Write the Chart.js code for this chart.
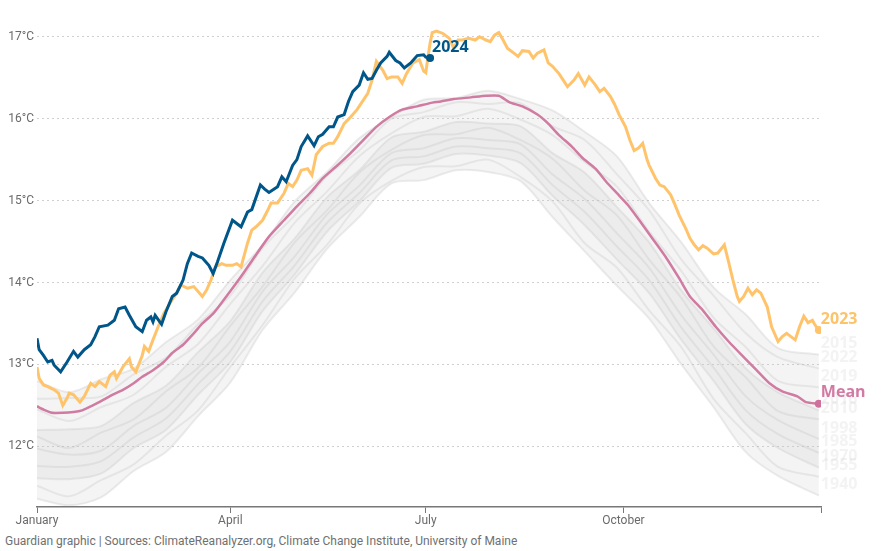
<!DOCTYPE html>
<html lang="en">
<head>
	<meta charset="UTF-8">
	<title>Daily global air temperature</title>
	<script src="https://cdn.jsdelivr.net/npm/chart.js@4.4.1/dist/chart.umd.min.js"></script>
	<style>
		html, body { margin: 0; padding: 0; background: #fff; }
		.wrap { position: relative; width: 884px; height: 551px; }
		#tempChart { position: absolute; left: 0; top: 0; }
		.source { position: absolute; left: 5px; top: 533px; font: 12px/16px Roboto, sans-serif; color: #707070; }
	</style>
</head>

<body>
	<div class="wrap">
		<canvas id="tempChart" width="884" height="528"></canvas>
		<div class="source">Guardian graphic | Sources: ClimateReanalyzer.org, Climate Change Institute, University of Maine</div>
	</div>

	<script>
		// day of year (0 = 1 January) and daily temperature in °C
		var days2024 = [0, 1, 3, 5, 7, 8, 11, 14, 17, 19, 22, 25, 27, 29, 33, 36, 38, 41, 43, 46, 49, 51, 53, 54, 55, 58, 60, 63, 65, 68,
			70, 72, 75, 77, 80, 82, 84, 87, 91, 93, 95, 98, 100, 104, 106, 108, 112, 114, 116, 119, 121, 123, 126, 129, 131, 133, 136, 138, 140, 143,
			145, 147, 150, 152, 154, 156, 158, 160, 163, 164, 167, 169, 171, 174, 177, 180, 181, 183];
		var temp2024 = [13.32, 13.18, 13.11, 13.03, 13.05, 12.99, 12.91, 13.03, 13.16, 13.09, 13.18, 13.24, 13.34, 13.46, 13.48, 13.54, 13.68, 13.70, 13.60, 13.46,
			13.40, 13.54, 13.58, 13.52, 13.60, 13.49, 13.64, 13.83, 13.87, 14.03, 14.23, 14.36, 14.32, 14.30, 14.21, 14.11, 14.25, 14.48, 14.76, 14.72,
			14.68, 14.86, 14.89, 15.19, 15.14, 15.10, 15.17, 15.29, 15.23, 15.43, 15.50, 15.66, 15.79, 15.67, 15.78, 15.81, 15.90, 15.90, 16.02, 16.05,
			16.21, 16.33, 16.41, 16.56, 16.48, 16.49, 16.59, 16.68, 16.76, 16.81, 16.71, 16.68, 16.62, 16.68, 16.77, 16.78, 16.75, 16.74];

		var days2023 = [0, 1, 3, 5, 8, 10, 12, 14, 15, 17, 20, 22, 25, 27, 29, 32, 34, 36, 37, 40, 43, 44, 46, 49, 50, 52, 54, 57, 59, 62,
			65, 67, 70, 73, 77, 79, 81, 83, 86, 88, 91, 93, 95, 98, 100, 102, 105, 107, 109, 112, 115, 117, 119, 121, 123, 126, 128, 130, 133, 136,
			138, 140, 143, 146, 149, 152, 154, 156, 158, 161, 163, 165, 168, 170, 172, 175, 178, 180, 181, 182, 183, 184, 186, 189, 192, 194, 196, 198, 201, 204,
			206, 209, 211, 213, 215, 217, 219, 222, 224, 226, 229, 231, 233, 236, 238, 240, 243, 245, 247, 250, 252, 255, 257, 260, 262, 264, 267, 269, 271, 274,
			276, 278, 280, 282, 284, 285, 288, 290, 292, 295, 297, 299, 302, 304, 306, 308, 310, 312, 315, 317, 320, 322, 324, 326, 327, 329, 331, 333, 335, 337,
			340, 342, 345, 347, 349, 351, 353, 355, 357, 359, 361, 362, 364];
		var temp2023 = [12.97, 12.83, 12.75, 12.73, 12.69, 12.65, 12.50, 12.59, 12.65, 12.63, 12.54, 12.61, 12.77, 12.73, 12.79, 12.73, 12.87, 12.91, 12.83, 12.97,
			13.07, 12.97, 12.91, 13.11, 13.22, 13.16, 13.30, 13.50, 13.62, 13.75, 13.87, 13.97, 13.93, 13.95, 13.83, 13.91, 14.03, 14.19, 14.23, 14.21,
			14.21, 14.23, 14.19, 14.48, 14.64, 14.68, 14.76, 14.86, 14.97, 14.97, 15.09, 15.21, 15.17, 15.25, 15.37, 15.39, 15.31, 15.56, 15.66, 15.70,
			15.70, 15.78, 15.94, 16.02, 16.11, 16.23, 16.31, 16.47, 16.70, 16.59, 16.49, 16.51, 16.51, 16.43, 16.55, 16.68, 16.72, 16.58, 16.56, 16.75,
			16.92, 17.05, 17.07, 17.04, 16.98, 16.86, 16.96, 16.96, 16.98, 16.96, 17.00, 16.96, 16.94, 17.02, 17.05, 16.96, 16.86, 16.80, 16.76, 16.83,
			16.82, 16.74, 16.80, 16.84, 16.68, 16.64, 16.55, 16.47, 16.39, 16.47, 16.55, 16.41, 16.51, 16.41, 16.33, 16.37, 16.27, 16.17, 16.05, 15.90,
			15.74, 15.61, 15.64, 15.70, 15.50, 15.43, 15.27, 15.19, 15.17, 15.07, 14.95, 14.82, 14.66, 14.54, 14.46, 14.40, 14.45, 14.42, 14.35, 14.36,
			14.46, 14.25, 14.03, 13.83, 13.77, 13.83, 13.93, 13.85, 13.91, 13.87, 13.70, 13.46, 13.28, 13.34, 13.38, 13.34, 13.30, 13.46, 13.59, 13.51,
			13.54, 13.49, 13.42];

		var daysMean = [0, 3, 7, 12, 17, 21, 26, 31, 35, 40, 45, 49, 54, 59, 63, 68, 73, 77, 82, 87, 91, 96, 102, 108, 115, 121, 127, 133, 139, 146,
			152, 158, 164, 170, 177, 183, 188, 194, 202, 209, 215, 220, 226, 233, 238, 243, 249, 254, 260, 265, 270, 275, 281, 287, 293, 299, 304, 310, 316, 322,
			329, 335, 341, 347, 354, 358, 364];
		var tempMean = [12.49, 12.45, 12.41, 12.41, 12.42, 12.44, 12.50, 12.57, 12.63, 12.69, 12.77, 12.85, 12.93, 13.03, 13.14, 13.24, 13.38, 13.50, 13.62, 13.79,
			13.93, 14.11, 14.34, 14.56, 14.76, 14.93, 15.09, 15.27, 15.41, 15.58, 15.74, 15.90, 16.02, 16.11, 16.15, 16.19, 16.21, 16.24, 16.26, 16.28,
			16.28, 16.20, 16.15, 16.05, 15.94, 15.80, 15.66, 15.52, 15.39, 15.23, 15.09, 14.95, 14.74, 14.52, 14.30, 14.05, 13.83, 13.66, 13.46, 13.28,
			13.09, 12.93, 12.77, 12.67, 12.61, 12.54, 12.52];

		// earlier years
		var greyDays = [0, 15, 30, 45, 60, 75, 90, 105, 120, 135, 150, 165, 180, 195, 210, 225, 240, 255, 270, 285, 300, 315, 330, 345, 364];
		var greyYears = ['2015', '2022', '2019', '2016', '2010', '1998', '1985', '1970', '1955', '1940'];
		var grey2015 = [12.80, 12.66, 12.82, 12.95, 13.27, 13.55, 14.03, 14.46, 14.99, 15.35, 15.76, 16.02, 16.23, 16.25, 16.34, 16.24, 16.10, 15.84, 15.54, 14.97, 14.49, 13.94, 13.61, 13.20, 13.12];
		var grey2022 = [12.58, 12.59, 12.61, 12.88, 13.08, 13.49, 13.84, 14.42, 14.82, 15.30, 15.61, 16.00, 16.08, 16.20, 16.18, 16.19, 15.91, 15.74, 15.32, 14.88, 14.28, 13.84, 13.38, 13.09, 12.95];
		var grey2019 = [12.45, 12.31, 12.48, 12.63, 12.97, 13.25, 13.74, 14.20, 14.73, 15.11, 15.54, 15.82, 16.02, 16.03, 16.12, 15.99, 15.80, 15.47, 15.17, 14.62, 14.14, 13.57, 13.21, 12.80, 12.72];
		var grey2016 = [12.20, 12.21, 12.25, 12.53, 12.74, 13.15, 13.53, 14.12, 14.54, 15.04, 15.37, 15.77, 15.84, 15.96, 15.94, 15.91, 15.58, 15.34, 14.92, 14.49, 13.90, 13.44, 12.95, 12.66, 12.44];
		var grey2010 = [12.12, 11.98, 12.17, 12.33, 12.67, 12.96, 13.47, 13.95, 14.49, 14.88, 15.34, 15.62, 15.80, 15.81, 15.89, 15.74, 15.51, 15.12, 14.82, 14.28, 13.81, 13.22, 12.84, 12.43, 12.33];
		var grey1998 = [11.97, 11.90, 11.95, 12.25, 12.47, 12.89, 13.28, 13.89, 14.32, 14.83, 15.18, 15.58, 15.64, 15.76, 15.74, 15.69, 15.32, 15.02, 14.60, 14.18, 13.60, 13.12, 12.61, 12.32, 12.09];
		var grey1985 = [11.76, 11.75, 11.82, 12.11, 12.34, 12.76, 13.16, 13.77, 14.21, 14.73, 15.09, 15.49, 15.54, 15.66, 15.64, 15.58, 15.19, 14.86, 14.44, 14.03, 13.45, 12.96, 12.44, 12.15, 11.92];
		var grey1970 = [11.61, 11.60, 11.67, 11.98, 12.20, 12.63, 13.03, 13.65, 14.10, 14.62, 14.99, 15.40, 15.45, 15.57, 15.55, 15.46, 15.06, 14.70, 14.28, 13.87, 13.30, 12.80, 12.27, 11.98, 11.74];
		var grey1955 = [11.52, 11.39, 11.59, 11.78, 12.13, 12.44, 12.97, 13.48, 14.05, 14.46, 14.96, 15.24, 15.41, 15.42, 15.50, 15.29, 14.99, 14.48, 14.18, 13.66, 13.21, 12.58, 12.16, 11.75, 11.63];
		var grey1940 = [11.36, 11.28, 11.38, 11.70, 11.93, 12.37, 12.78, 13.42, 13.88, 14.41, 14.80, 15.21, 15.25, 15.37, 15.35, 15.24, 14.80, 14.38, 13.96, 13.56, 13.00, 12.48, 11.93, 11.64, 11.40];
		var greyTemps = [grey2015, grey2022, grey2019, grey2016, grey2010, grey1998, grey1985, grey1970, grey1955, grey1940];

		var monthTicks = [0, 90, 181, 273, 365];
		var monthLabels = ['January', 'April', 'July', 'October', ''];
		var tempTicks = [12, 13, 14, 15, 16, 17];

		function toPoints(days, temps) {
			return days.map(function (d, i) { return { x: d, y: temps[i] }; });
		}

		// dot on the last point only
		function lastDot(c) {
			return c.dataIndex === c.dataset.data.length - 1 ? 4 : 0;
		}

		var datasets = [{
				data: toPoints(days2024, temp2024),
				borderColor: '#005689',
				backgroundColor: '#005689',
				borderWidth: 3,
				endLabel: '2024',
				labelColor: '#005689'
			},
			{
				data: toPoints(days2023, temp2023),
				borderColor: '#ffc46b',
				backgroundColor: '#ffc46b',
				borderWidth: 3,
				endLabel: '2023',
				labelColor: '#fdc36a'
			},
			{
				data: toPoints(daysMean, tempMean),
				borderColor: '#d07ba2',
				backgroundColor: '#cf6f9c',
				borderWidth: 2.5,
				tension: 0.2,
				endLabel: 'Mean',
				labelColor: '#d27aa3'
			}
		];
		datasets.forEach(function (ds) {
			ds.pointRadius = lastDot;
			ds.pointBorderWidth = 0;
			ds.fill = false;
		});

		// whole band filled faintly, denser core between 2016 and 1970
		greyTemps.forEach(function (temps, i) {
			var fill = false;
			var bg = 'rgba(200, 200, 200, 0.2)';
			if (i === 0) {
				fill = '+' + (greyTemps.length - 1);
			} else if (i === 3) {
				fill = '+4';
				bg = 'rgba(190, 190, 190, 0.16)';
			}
			datasets.push({
				data: toPoints(greyDays, temps),
				borderColor: 'rgba(170, 170, 170, 0.22)',
				backgroundColor: bg,
				borderWidth: 2,
				tension: 0.3,
				pointRadius: 0,
				fill: fill,
				endLabel: greyYears[i],
				labelColor: 'rgba(200, 200, 200, 0.22)'
			});
		});

		var endLabels = {
			id: 'endLabels',
			afterDatasetsDraw: function (chart) {
				var ctx = chart.ctx;
				ctx.save();
				ctx.textAlign = 'left';
				ctx.textBaseline = 'middle';
				ctx.font = 'bold 16px "Open Sans", sans-serif';
				// grey years first, coloured labels on top
				for (var i = chart.data.datasets.length - 1; i >= 0; i--) {
					var ds = chart.data.datasets[i];
					var pts = chart.getDatasetMeta(i).data;
					var last = pts[pts.length - 1];
					ctx.fillStyle = ds.labelColor;
					ctx.fillText(ds.endLabel, last.x + 2, last.y - 11);
				}
				ctx.restore();
			}
		};

		var tickFont = { family: 'Roboto', size: 12 };

		new Chart(document.getElementById('tempChart'), {
			type: 'line',
			data: { datasets: datasets },
			plugins: [endLabels],
			options: {
				responsive: false,
				animation: false,
				layout: { padding: { top: 22, right: 63, bottom: 0, left: 0 } },
				plugins: {
					legend: { display: false },
					tooltip: { enabled: false }
				},
				scales: {
					x: {
						type: 'linear',
						min: 0,
						max: 365,
						afterBuildTicks: function (s) {
							s.ticks = monthTicks.map(function (v) { return { value: v }; });
						},
						afterFit: function (s) { s.height = 21; },
						ticks: {
							autoSkip: false,
							maxRotation: 0,
							padding: 1,
							color: '#6a6a6a',
							font: tickFont,
							callback: function (v) { return monthLabels[monthTicks.indexOf(v)]; }
						},
						grid: { drawOnChartArea: false, drawTicks: true, tickLength: 6, color: '#777', lineWidth: 1 },
						border: { display: true, color: '#777', width: 1.5 }
					},
					y: {
						min: 11.26,
						max: 17.18,
						afterBuildTicks: function (s) {
							s.ticks = tempTicks.map(function (v) { return { value: v }; });
						},
						afterFit: function (s) { s.width = 37; },
						ticks: {
							padding: 3,
							color: '#6a6a6a',
							font: tickFont,
							callback: function (v) { return v + '°C'; }
						},
						grid: { color: '#d0d0d0', drawTicks: false, lineWidth: 1 },
						border: { display: false, dash: [2, 3] }
					}
				}
			}
		});
	</script>
</body>

</html>
